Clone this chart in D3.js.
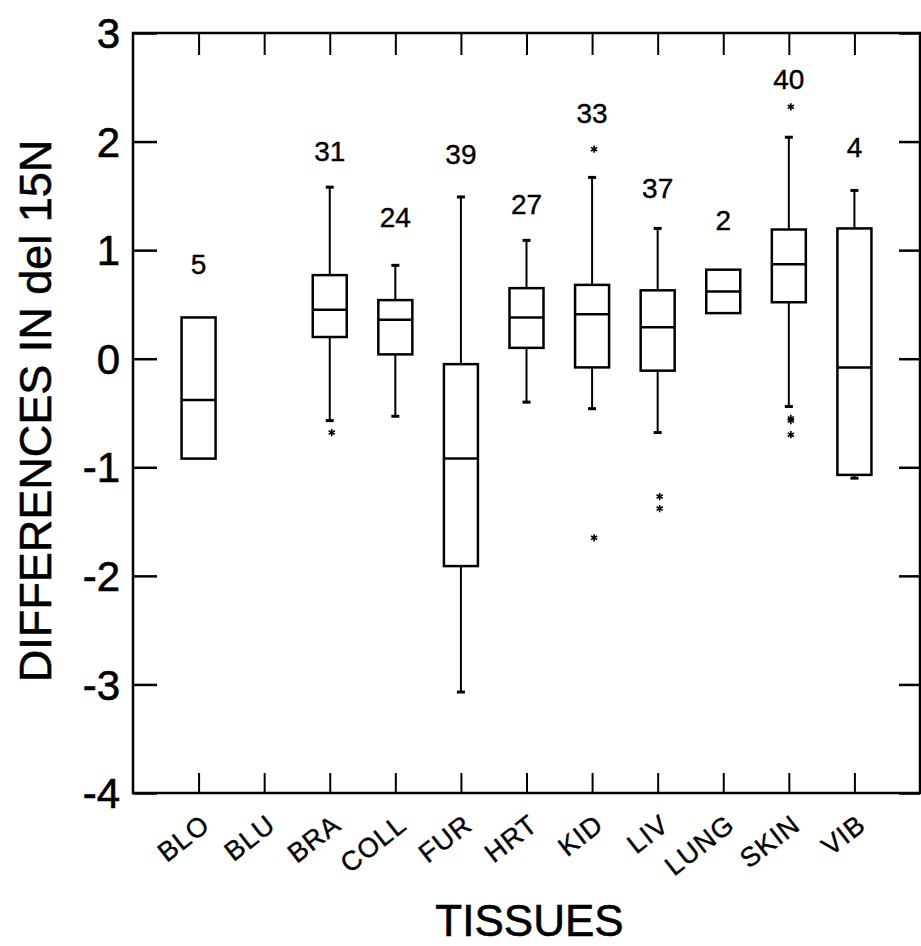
<!DOCTYPE html>
<html>
<head>
<meta charset="utf-8">
<script src="https://cdn.jsdelivr.net/npm/d3@7"></script>
<style>
  html, body { margin: 0; padding: 0; background: #fff; }
  svg { display: block; font-family: "Liberation Sans", Arial, Helvetica, sans-serif; }
</style>
</head>
<body>
<svg id="chart" width="921" height="946"></svg>
<script>
// ---- data ----
const categories  = ["BLO", "BLU", "BRA", "COLL", "FUR", "HRT", "KID", "LIV", "LUNG", "SKIN", "VIB"];
const counts      = [5, null, 31, 24, 39, 27, 33, 37, 2, 40, 4];
const whiskerHigh = [null, null, 1.58, 0.86, 1.49, 1.09, 1.67, 1.20, null, 2.04, 1.55];
const upperQuart  = [0.38, null, 0.77, 0.54, -0.05, 0.65, 0.68, 0.63, 0.82, 1.19, 1.20];
const medians     = [-0.38, null, 0.45, 0.36, -0.92, 0.38, 0.41, 0.29, 0.62, 0.87, -0.08];
const lowerQuart  = [-0.92, null, 0.20, 0.04, -1.91, 0.10, -0.08, -0.11, 0.42, 0.52, -1.07];
const whiskerLow  = [null, null, -0.57, -0.53, -3.07, -0.40, -0.46, -0.68, null, -0.44, -1.10];
const outliers    = [[], [], [-0.68], [], [], [], [1.93, -1.65], [-1.27, -1.38], [], [2.32, -0.55, -0.57, -0.70], []];
const countLabelAt = [0.87, null, 1.91, 1.31, 1.89, 1.43, 2.26, 1.57, 1.28, 2.58, 1.95];
const yTicks      = [3, 2, 1, 0, -1, -2, -3, -4];
const yTitle = "DIFFERENCES IN del 15N";
const xTitle = "TISSUES";

// ---- layout ----
const svg = d3.select("#chart");
const mLeft = 133, mRight = 920, mTop = 33, mBottom = 793;

const x = d3.scalePoint().domain(categories).range([mLeft, mRight]).padding(1);
const y = d3.scaleLinear().domain([-4, 3]).range([mBottom, mTop]);

const boxW = 34, capW = 8;

// frame
svg.append("rect")
  .attr("x", mLeft).attr("y", mTop)
  .attr("width", mRight - mLeft).attr("height", mBottom - mTop)
  .attr("fill", "none").attr("stroke", "#000").attr("stroke-width", 2.5);

// left axis (inward ticks) with labels
const yAxisL = d3.axisRight(y).tickValues(yTicks).tickSize(24).tickFormat("");
const gL = svg.append("g").attr("transform", `translate(${mLeft},0)`).call(yAxisL);
gL.select(".domain").remove();
gL.selectAll(".tick line").attr("stroke", "#000").attr("stroke-width", 2.5);

svg.append("g").selectAll("text").data(yTicks).join("text")
  .attr("x", 120).attr("y", d => y(d))
  .attr("dy", "0.36em")
  .attr("text-anchor", "end")
  .attr("font-size", 42)
  .attr("fill", "#000")
  .attr("stroke", "#000").attr("stroke-width", 0.6)
  .text(d => d);

// right axis (inward ticks)
const yAxisR = d3.axisLeft(y).tickValues(yTicks).tickSize(21).tickFormat("");
const gR = svg.append("g").attr("transform", `translate(${mRight},0)`).call(yAxisR);
gR.select(".domain").remove();
gR.selectAll(".tick line").attr("stroke", "#000").attr("stroke-width", 2.5);

// bottom axis (inward ticks)
const xAxisB = d3.axisTop(x).tickSize(20).tickFormat("");
const gB = svg.append("g").attr("transform", `translate(0,${mBottom})`).call(xAxisB);
gB.select(".domain").remove();
gB.selectAll(".tick line").attr("stroke", "#000").attr("stroke-width", 2);

// top axis (inward ticks)
const xAxisT = d3.axisBottom(x).tickSize(22).tickFormat("");
const gT = svg.append("g").attr("transform", `translate(0,${mTop})`).call(xAxisT);
gT.select(".domain").remove();
gT.selectAll(".tick line").attr("stroke", "#000").attr("stroke-width", 2);

// category labels, rotated
svg.append("g").selectAll("text").data(categories).join("text")
  .attr("transform", d => `translate(${x(d) + 13},${mBottom + 35}) rotate(-38)`)
  .attr("text-anchor", "end")
  .attr("font-size", 27)
  .attr("letter-spacing", 1)
  .attr("fill", "#000")
  .attr("stroke", "#000").attr("stroke-width", 0.4)
  .text(d => d);

// axis titles
svg.append("text")
  .attr("transform", `translate(51,411) rotate(-90)`)
  .attr("text-anchor", "middle")
  .attr("font-size", 45)
  .attr("fill", "#000")
  .attr("stroke", "#000").attr("stroke-width", 0.6)
  .text(yTitle);

svg.append("text")
  .attr("x", (mLeft + mRight) / 2 + 3).attr("y", 936)
  .attr("text-anchor", "middle")
  .attr("font-size", 44)
  .attr("fill", "#000")
  .attr("stroke", "#000").attr("stroke-width", 0.6)
  .text(xTitle);

// ---- boxes ----
const rows = categories.map((c, i) => ({
  c, n: counts[i], hi: whiskerHigh[i], q3: upperQuart[i], med: medians[i],
  q1: lowerQuart[i], lo: whiskerLow[i], out: outliers[i], lab: countLabelAt[i]
})).filter(d => d.med !== null);

const g = svg.append("g");

rows.forEach(d => {
  const cx = x(d.c);
  if (d.hi !== null) {
    g.append("line").attr("x1", cx).attr("x2", cx).attr("y1", y(d.q3)).attr("y2", y(d.hi))
      .attr("stroke", "#000").attr("stroke-width", 2);
    g.append("line").attr("x1", cx - capW / 2).attr("x2", cx + capW / 2).attr("y1", y(d.hi)).attr("y2", y(d.hi))
      .attr("stroke", "#000").attr("stroke-width", 3);
  }
  if (d.lo !== null) {
    g.append("line").attr("x1", cx).attr("x2", cx).attr("y1", y(d.q1)).attr("y2", y(d.lo))
      .attr("stroke", "#000").attr("stroke-width", 2);
    g.append("line").attr("x1", cx - capW / 2).attr("x2", cx + capW / 2).attr("y1", y(d.lo)).attr("y2", y(d.lo))
      .attr("stroke", "#000").attr("stroke-width", 3);
  }
  g.append("rect")
    .attr("x", cx - boxW / 2).attr("y", y(d.q3))
    .attr("width", boxW).attr("height", y(d.q1) - y(d.q3))
    .attr("fill", "#fff").attr("stroke", "#000").attr("stroke-width", 2.5);
  g.append("line").attr("x1", cx - boxW / 2).attr("x2", cx + boxW / 2)
    .attr("y1", y(d.med)).attr("y2", y(d.med))
    .attr("stroke", "#000").attr("stroke-width", 2.5);
  d.out.forEach(v => {
    g.append("path")
      .attr("transform", `translate(${cx + 2},${y(v)})`)
      .attr("d", d3.symbol(d3.symbolAsterisk, 36)())
      .attr("fill", "none").attr("stroke", "#000").attr("stroke-width", 1.6);
  });
  g.append("text")
    .attr("x", cx).attr("y", y(d.lab))
    .attr("dy", "0.36em")
    .attr("text-anchor", "middle")
    .attr("font-size", 28)
    .attr("fill", "#000")
    .attr("stroke", "#000").attr("stroke-width", 0.4)
    .text(d.n);
});
</script>
</body>
</html>
